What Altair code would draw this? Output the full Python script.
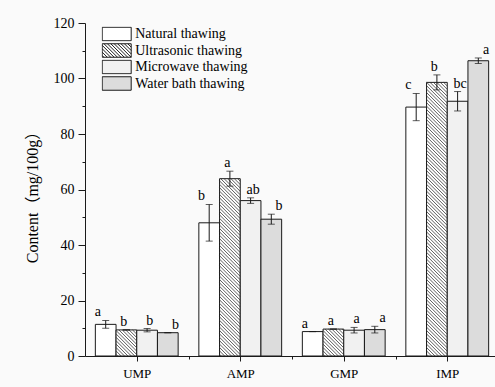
import json
import altair as alt
import pandas as pd

# ---------------- data ----------------
categories = ["UMP", "AMP", "GMP", "IMP"]
treatments = ["Natural thawing", "Ultrasonic thawing", "Microwave thawing", "Water bath thawing"]

natural = [11.4, 48.0, 8.8, 89.7]
ultrasonic = [9.4, 63.9, 9.7, 98.6]
microwave = [9.3, 56.0, 9.3, 91.8]
water_bath = [8.4, 49.3, 9.5, 106.4]

natural_err = [1.4, 6.6, 0.0, 4.9]
ultrasonic_err = [0.0, 2.7, 0.0, 2.7]
microwave_err = [0.6, 1.0, 1.0, 3.5]
water_bath_err = [0.0, 1.8, 1.2, 1.0]

natural_sig = ["a", "b", "a", "c"]
ultrasonic_sig = ["b", "a", "a", "b"]
microwave_sig = ["b", "ab", "a", "bc"]
water_bath_sig = ["b", "b", "a", "a"]

y_ticks = list(range(0, 121, 10))

# ---------------- styling constants ----------------
SERIF = "Liberation Serif"
TITLE_FONT = "Liberation Serif, Noto Sans CJK SC"
INK = "#1a1a1a"
FILLS = ["#ffffff", "#ffffff", "#f1f1f1", "#dcdcdc"]
X_RANGE = 414.0
PLOT_W = 410
PLOT_H = 333
Y_MAX = 120
HATCH_STEP = 3.4  # px

rows = []
for t, vals, errs, sigs in zip(
    treatments,
    [natural, ultrasonic, microwave, water_bath],
    [natural_err, ultrasonic_err, microwave_err, water_bath_err],
    [natural_sig, ultrasonic_sig, microwave_sig, water_bath_sig],
):
    for c, v, e, s in zip(categories, vals, errs, sigs):
        rows.append(dict(category=c, treatment=t, value=v, lo=v - e, hi=v + e, sig=s))
df = pd.DataFrame(rows)

# hatch segments for the ultrasonic bars (derived from the ultrasonic values)
px_x = X_RANGE / len(categories)
px_y = PLOT_H / Y_MAX
n_t = len(treatments)
bar_frac = 1.0 / (n_t + 1.0)          # xOffset paddingOuter 0.5
start_frac = 0.5 * bar_frac + 1 * bar_frac  # second bar (ultrasonic)
bw = bar_frac * px_x
hatch_rows = []
for i, v in enumerate(ultrasonic):
    h = v * px_y
    x0 = i + start_frac
    c = HATCH_STEP / 2
    while c < bw + h:
        xa = max(0.0, c - h)
        xb = min(bw, c)
        hatch_rows.append(dict(x=x0 + xa / px_x, x2=x0 + xb / px_x,
                               y=(c - xa) / px_y, y2=(c - xb) / px_y))
        c += HATCH_STEP
hatch_df = pd.DataFrame(hatch_rows)

# legend symbol shapes (custom paths, unit = sqrt(size)/2)
HH = 0.465
rect_path = f"M-1,-{HH}H1V{HH}H-1Z"
segs = []
step_u = HATCH_STEP / 14.5
c = -1 - HH + step_u / 2
while c < 1 + HH:
    xa = max(-1.0, c - HH)
    xb = min(1.0, c + HH)
    if xb > xa:
        segs.append(f"M{xa:.3f},{xa - c:.3f}L{xb:.3f},{xb - c:.3f}")
    c += step_u
hatch_path = rect_path + "".join(segs)
SHAPES = [rect_path, hatch_path, rect_path, rect_path]

# ---------------- scales / guides ----------------
x_band = alt.Scale(domain=categories, range=[0, X_RANGE], paddingInner=0, paddingOuter=0)
x_off = alt.Scale(domain=treatments, paddingInner=0, paddingOuter=0.5)
y_scale = alt.Scale(domain=[0, Y_MAX], nice=False, zero=True)
fill_scale = alt.Scale(domain=treatments, range=FILLS)
stroke_scale = alt.Scale(domain=treatments, range=[INK] * len(treatments))
shape_scale = alt.Scale(domain=treatments, range=SHAPES)

legend = alt.Legend(
    title=None, orient="none", legendX=16.7, legendY=3.5, padding=0, offset=0,
    symbolSize=841, clipHeight=15, rowPadding=1.5, labelOffset=3.5,
    labelFont=SERIF, labelFontSize=14, labelColor="black", labelLimit=300,
    symbolOpacity=1, symbolStrokeWidth=1,
)

y_axis = alt.Axis(
    values=y_ticks,
    labelExpr="datum.value % 20 == 0 ? datum.label : ''",
    tickSize={"condition": {"test": "datum.value % 20 == 0", "value": 7}, "value": 3},
    labelPadding=4, labelFont=SERIF, labelFontSize=14, labelColor="black",
    domainColor=INK, tickColor=INK, grid=False,
    title="Content（mg/100g）", titleFont=TITLE_FONT, titleFontSize=16,
    titleFontWeight="normal", titleColor="black",
    titleX=-53, titleY=170, titleAngle=270, titleAlign="center", titleBaseline="middle",
)

label_list = json.dumps(categories)
x_axis = alt.Axis(
    orient="bottom",
    values=[0.5, 1, 1.5, 2, 2.5, 3, 3.5],
    labelExpr=f"datum.value % 1 == 0.5 ? {label_list}[floor(datum.value)] : ''",
    tickSize={"condition": {"test": "datum.value % 1 == 0.5", "value": 5}, "value": 3},
    labelPadding=6, labelFont=SERIF, labelFontSize=13, labelColor="black",
    labelOverlap=False, labelFlush=False,
    domainColor=INK, tickColor=INK, grid=False, title=None,
)

base = alt.Chart(df).encode(
    x=alt.X("category:N", scale=x_band, axis=None, sort=categories),
    xOffset=alt.XOffset("treatment:N", scale=x_off, sort=treatments),
)

bars = base.mark_bar(strokeWidth=1).encode(
    y=alt.Y("value:Q", scale=y_scale, axis=y_axis),
    fill=alt.Fill("treatment:N", scale=fill_scale, legend=legend),
    stroke=alt.Stroke("treatment:N", scale=stroke_scale, legend=legend),
)

hatch = alt.Chart(hatch_df).mark_rule(color="#333333", strokeWidth=0.8).encode(
    x=alt.X("x:Q", scale=alt.Scale(domain=[0, len(categories)], range=[0, X_RANGE], nice=False, zero=False), axis=x_axis),
    x2="x2:Q",
    y=alt.Y("y:Q", scale=y_scale, axis=y_axis),
    y2="y2:Q",
)

err_rule = base.mark_rule(color=INK, strokeWidth=1).encode(
    y=alt.Y("lo:Q", scale=y_scale, axis=y_axis), y2="hi:Q"
)
cap_hi = base.mark_tick(color=INK, thickness=1, size=7, orient="horizontal").encode(
    y=alt.Y("hi:Q", scale=y_scale, axis=y_axis)
)
cap_lo = base.mark_tick(color=INK, thickness=1, size=7, orient="horizontal").encode(
    y=alt.Y("lo:Q", scale=y_scale, axis=y_axis)
)
letters = base.mark_text(baseline="bottom", dy=-1, font=SERIF, fontSize=14, color="black").encode(
    y=alt.Y("hi:Q", scale=y_scale, axis=y_axis), text="sig:N"
)
legend_pts = base.mark_point(filled=True, opacity=0, strokeWidth=1).encode(
    y=alt.Y("value:Q", scale=y_scale, axis=y_axis),
    fill=alt.Fill("treatment:N", scale=fill_scale, legend=legend),
    stroke=alt.Stroke("treatment:N", scale=stroke_scale, legend=legend),
    shape=alt.Shape("treatment:N", scale=shape_scale, legend=legend),
)

chart = (
    alt.layer(bars, hatch, err_rule, cap_hi, cap_lo, letters, legend_pts)
    .resolve_scale(x="independent", xOffset="independent")
    .properties(
        width=PLOT_W, height=PLOT_H,
        autosize=alt.AutoSizeParams(type="none"),
        padding={"left": 85, "top": 23, "right": 0, "bottom": 31},
        background="#fafafa",
    )
    .configure_view(stroke="transparent")
)

chart.save("out.html", embed_options={"renderer": "svg", "actions": False})
